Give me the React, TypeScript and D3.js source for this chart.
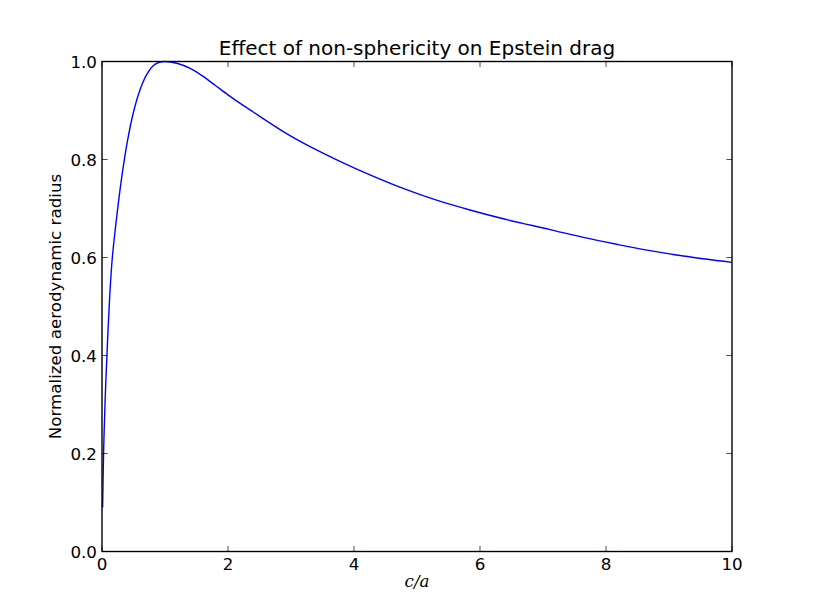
import React from "react";
import * as d3 from "d3";

const ratioValues = [0.01, 0.025, 0.05, 0.078, 0.12, 0.164, 0.24, 0.32, 0.4, 0.5, 0.6, 0.7, 0.8, 0.9, 1.0, 1.2, 1.4, 1.6, 1.8, 2.0, 2.2, 2.4, 2.93, 3.46, 4.0, 4.78, 5.31, 5.84, 6.37, 7.11, 7.64, 8.17, 8.7, 9.23, 10];
const radiusValues = [0.09, 0.2, 0.31, 0.4, 0.515, 0.6, 0.69, 0.77, 0.835, 0.897, 0.941, 0.971, 0.99, 0.998, 1.0, 0.996, 0.986, 0.97, 0.951, 0.932, 0.914, 0.897, 0.853, 0.816, 0.783, 0.741, 0.717, 0.697, 0.679, 0.657, 0.641, 0.627, 0.614, 0.603, 0.59];
const xTicks = [0, 2, 4, 6, 8, 10];
const yTicks = [0, 0.2, 0.4, 0.6, 0.8, 1.0];

const W = 813;
const H = 613;
const left = 102;
const right = 732;
const top = 61.5;
const bottom = 551.5;
const font = "'DejaVu Sans', sans-serif";

export default function App() {
  const x = d3.scaleLinear().domain([0, 10]).range([left, right]);
  const y = d3.scaleLinear().domain([0, 1]).range([bottom, top]);
  const pts = ratioValues.map((r, i) => [r, radiusValues[i]] as [number, number]);
  const line = d3
    .line<[number, number]>()
    .x((d) => x(d[0]))
    .y((d) => y(d[1]))
    .curve(d3.curveCatmullRom.alpha(0.5));
  const tl = 5.6;
  return (
    <svg width={W} height={H} style={{ position: "absolute", left: 0, top: 0, background: "#fff" }}>
      <rect x={0} y={0} width={W} height={H} fill="#fff" />
      <defs>
        <clipPath id="plot">
          <rect x={left} y={top - 1} width={right - left} height={bottom - top + 1} />
        </clipPath>
      </defs>
      <path d={line(pts) || ""} fill="none" stroke="#0000ff" strokeWidth={1.4} clipPath="url(#plot)" />
      {xTicks.map((t) => (
        <g key={"x" + t}>
          <line x1={x(t)} x2={x(t)} y1={bottom} y2={bottom - tl} stroke="#000" strokeWidth={0.7} />
          <line x1={x(t)} x2={x(t)} y1={top} y2={top + tl} stroke="#000" strokeWidth={0.7} />
          <text x={x(t)} y={569.5} textAnchor="middle" fontFamily={font} fontSize={16.7} fill="#000">
            {d3.format("d")(t)}
          </text>
        </g>
      ))}
      {yTicks.map((t) => (
        <g key={"y" + t}>
          <line x1={left} x2={left + tl} y1={y(t)} y2={y(t)} stroke="#000" strokeWidth={0.7} />
          <line x1={right} x2={right - tl} y1={y(t)} y2={y(t)} stroke="#000" strokeWidth={0.7} />
          <text x={97} y={y(t)} dy="0.36em" textAnchor="end" fontFamily={font} fontSize={16.7} fill="#000">
            {d3.format(".1f")(t)}
          </text>
        </g>
      ))}
      <rect x={left} y={top} width={right - left} height={bottom - top} fill="none" stroke="#000" strokeWidth={1.4} />
      <text x={(left + right) / 2} y={55} textAnchor="middle" fontFamily={font} fontSize={20} fill="#000">
        Effect of non-sphericity on Epstein drag
      </text>
      <text x={(left + right) / 2} y={587} textAnchor="middle" fontFamily="'DejaVu Serif', serif" fontStyle="italic" fontSize={16.7} fill="#000">
        c/a
      </text>
      <text
        transform={`translate(61, ${(top + bottom) / 2}) rotate(-90)`}
        textAnchor="middle"
        fontFamily={font}
        fontSize={16.7}
        fill="#000"
      >
        Normalized aerodynamic radius
      </text>
    </svg>
  );
}
